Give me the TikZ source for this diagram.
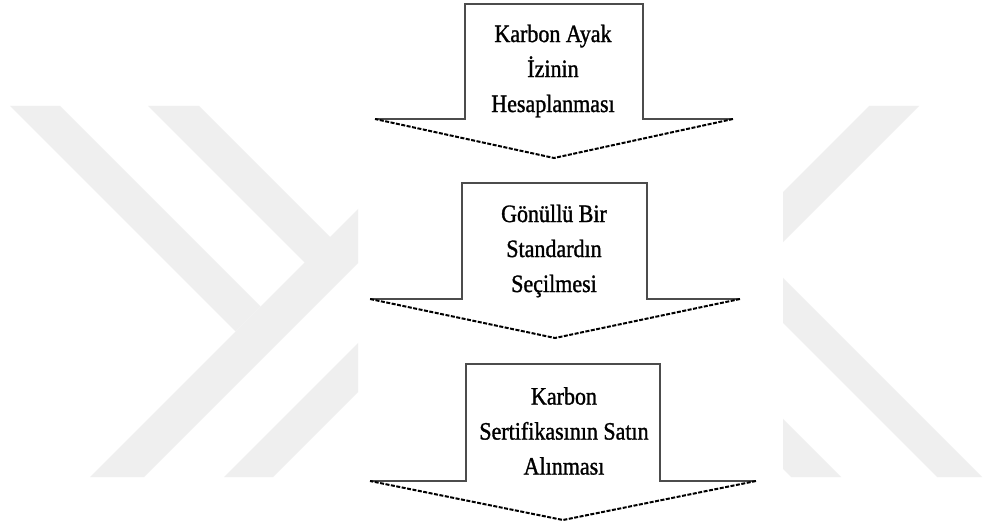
\documentclass[tikz,border=0pt]{standalone}
\usepackage{fontspec}
\setmainfont{Liberation Serif}
\newfontfamily\lblfont[FakeStretch=0.88,BoldFont={Liberation Serif},BoldFeatures={FakeBold=1.2}]{Liberation Serif}
\definecolor{wm}{RGB}{239,239,239}
\begin{document}
\begin{tikzpicture}[x=1pt,y=-1pt,
  wmark/.style={fill=wm,draw=none},
  outline/.style={draw=black!70,line width=2.2pt,line join=miter},
  diag/.style={draw=black,line width=2pt,dash pattern=on 4pt off 1.5pt},
  lbl/.style={align=center,font=\lblfont\bfseries\fontsize{25}{35}\selectfont,inner sep=0pt}]
\useasboundingbox (0,0) rectangle (984,529);
\fill[white] (0,0) rectangle (984,529);
% watermark
\begin{scope}
  \clip (0,106) rectangle (358,477) (783,106) rectangle (984,477);
  \path[wmark] (10,106) -- (60,106) -- (260.5,306.5) -- (235.5,331.5) -- cycle;
  \path[wmark] (148,106) -- (199,106) -- (331.5,238.5) -- (306,264) -- cycle;
  \path[wmark] (90,477) -- (144,477) -- (515,106) -- (461,106) -- cycle;
  \path[wmark] (224,477) -- (273,477) -- (644,106) -- (595,106) -- cycle;
  \path[wmark] (869,106) -- (919,106) -- (548,477) -- (498,477) -- cycle;
  \path[wmark] (566,106) -- (611,106) -- (982,477) -- (937,477) -- cycle;
  \path[wmark] (420,106) -- (470,106) -- (841,477) -- (791,477) -- cycle;
\end{scope}
% arrow 1
\path[fill=white] (465,4) -- (643,4) -- (643,119) -- (733,119) -- (554,158) -- (375,119) -- (465,119) -- cycle;
\draw[outline] (375,119) -- (465,119) -- (465,4) -- (643,4) -- (643,119) -- (733,119);
\draw[diag] (733,119) -- (554,158) -- (375,119);
\node[lbl] (n1) at (553,71) {Karbon Ayak\\İzinin\\Hesaplanması};
% arrow 2
\path[fill=white] (462,183) -- (647,183) -- (647,299) -- (740,299) -- (555,338) -- (370,299) -- (462,299) -- cycle;
\draw[outline] (370,299) -- (462,299) -- (462,183) -- (647,183) -- (647,299) -- (740,299);
\draw[diag] (740,299) -- (555,338) -- (370,299);
\node[lbl] (n2) at (554,251) {Gönüllü Bir\\Standardın\\Seçilmesi};
% arrow 3
\path[fill=white] (466,364) -- (660,364) -- (660,481) -- (756,481) -- (563,520) -- (370,481) -- (466,481) -- cycle;
\draw[outline] (370,481) -- (466,481) -- (466,364) -- (660,364) -- (660,481) -- (756,481);
\draw[diag] (756,481) -- (563,520) -- (370,481);
\node[lbl] (n3) at (564,431) {Karbon\\Sertifikasının Satın\\Alınması};
\end{tikzpicture}
\end{document}
